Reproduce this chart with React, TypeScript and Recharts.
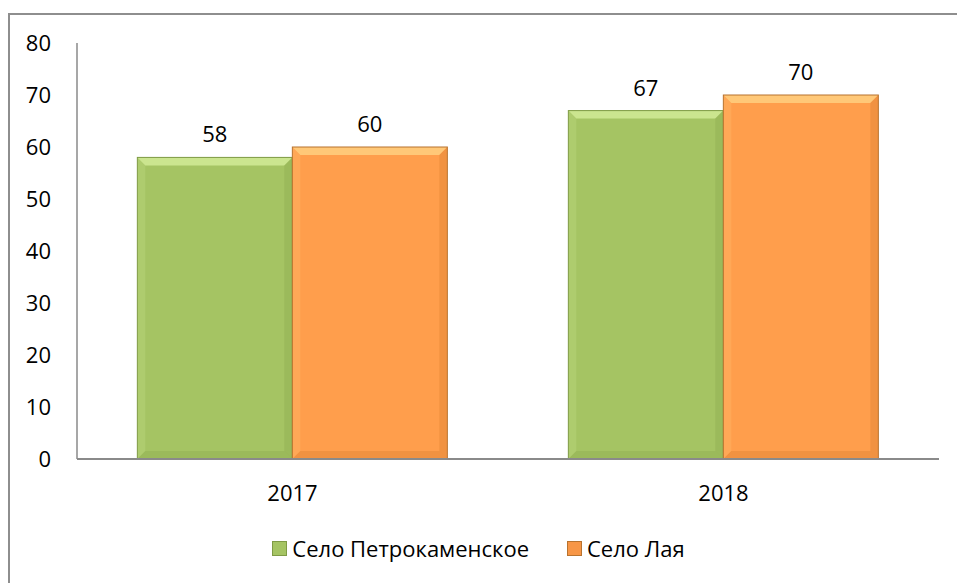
import { BarChart, Bar, XAxis, YAxis, Legend, LabelList } from "recharts";

const years = ["2017", "2018"];
const petrokamenskoe = [58, 67];
const laya = [60, 70];
const yTicks = [0, 10, 20, 30, 40, 50, 60, 70, 80];

const seriesNames = ["Село Петрокаменское", "Село Лая"];

const data = years.map((year, i) => ({
  year,
  petro: petrokamenskoe[i],
  laya: laya[i],
}));

const font = "'Open Sans', sans-serif";
const fs = 22;

// bevelled bar like the office chart style
function bevelShape(face: string, light: string, dark: string, edge: string) {
  return (props: any) => {
    const { x, y, width: w, height: h } = props;
    if (!h || h <= 0) return <g />;
    const b = 8;
    return (
      <g>
        <rect x={x} y={y} width={w} height={h} fill={face} />
        <polygon
          points={`${x},${y} ${x + w},${y} ${x + w - b},${y + b} ${x + b},${y + b}`}
          fill={light}
        />
        <polygon
          points={`${x},${y} ${x + b},${y + b} ${x + b},${y + h - b} ${x},${y + h}`}
          fill={light}
          opacity={0.25}
        />
        <polygon
          points={`${x + w},${y} ${x + w},${y + h} ${x + w - b},${y + h - b} ${x + w - b},${y + b}`}
          fill={dark}
          opacity={0.25}
        />
        <polygon
          points={`${x},${y + h} ${x + w},${y + h} ${x + w - b},${y + h - b} ${x + b},${y + h - b}`}
          fill={dark}
          opacity={0.25}
        />
        <rect x={x} y={y} width={w} height={h} fill="none" stroke={edge} strokeWidth={1} />
      </g>
    );
  };
}

const greenShape = bevelShape("#A5C463", "#CBE58F", "#7E9C42", "#7F9B45");
const orangeShape = bevelShape("#FF9E4C", "#FFC878", "#C8701F", "#B8732F");

function LegendContent() {
  const swatches = [
    { name: seriesNames[0], color: "#A5C463", edge: "#7F9B45" },
    { name: seriesNames[1], color: "#F79646", edge: "#B8732F" },
  ];
  return (
    <div
      style={{
        display: "flex",
        justifyContent: "center",
        gap: 38,
        fontFamily: font,
        fontSize: fs,
        color: "#000",
        lineHeight: "26px",
      }}
    >
      {swatches.map((s) => (
        <div key={s.name} style={{ display: "flex", alignItems: "center" }}>
          <span
            style={{
              display: "inline-block",
              width: 13,
              height: 13,
              background: s.color,
              border: `1px solid ${s.edge}`,
              marginRight: 5,
            }}
          />
          <span>{s.name}</span>
        </div>
      ))}
    </div>
  );
}

export default function App() {
  return (
    <div
      style={{
        position: "absolute",
        left: 0,
        top: 0,
        width: 957,
        height: 583,
        overflow: "hidden",
        background: "#fff",
      }}
    >
      <div
        style={{
          position: "absolute",
          left: 8,
          top: 13,
          width: 980,
          height: 600,
          border: "2px solid #8E8E8E",
          boxSizing: "border-box",
        }}
      />
      <div style={{ position: "absolute", left: 0, top: 0 }}>
        <BarChart
          width={957}
          height={583}
          data={data}
          margin={{ top: 43, right: 18, left: 0, bottom: 74 }}
          barCategoryGap="14%"
          barGap={0}
        >
          <XAxis
            dataKey="year"
            height={50}
            tickSize={0}
            tickMargin={26}
            axisLine={{ stroke: "#8A8A8A", strokeWidth: 2 }}
            tick={{ fill: "#000", fontSize: fs, fontFamily: font }}
          />
          <YAxis
            width={77}
            domain={[0, 80]}
            ticks={yTicks}
            interval={0}
            tickSize={0}
            tickMargin={26}
            axisLine={{ stroke: "#8A8A8A", strokeWidth: 1.5 }}
            tick={{ fill: "#000", fontSize: fs, fontFamily: font }}
          />
          <Legend
            verticalAlign="middle"
            layout="horizontal"
            content={<LegendContent />}
            wrapperStyle={{ top: 535, left: 0, width: 957 }}
          />
          <Bar
            dataKey="petro"
            name={seriesNames[0]}
            fill="#A5C463"
            shape={greenShape}
            isAnimationActive={false}
          >
            <LabelList
              dataKey="petro"
              position="top"
              offset={15}
              style={{ fill: "#000", fontSize: fs, fontFamily: font }}
            />
          </Bar>
          <Bar
            dataKey="laya"
            name={seriesNames[1]}
            fill="#F79646"
            shape={orangeShape}
            isAnimationActive={false}
          >
            <LabelList
              dataKey="laya"
              position="top"
              offset={15}
              style={{ fill: "#000", fontSize: fs, fontFamily: font }}
            />
          </Bar>
        </BarChart>
      </div>
    </div>
  );
}
